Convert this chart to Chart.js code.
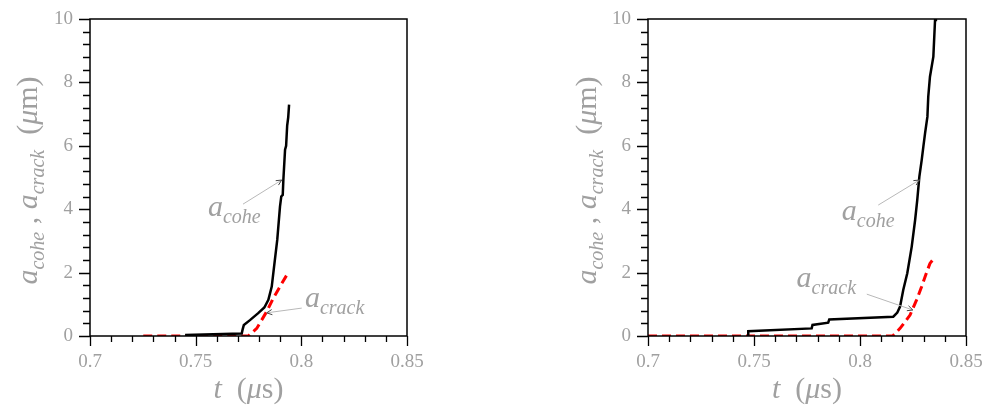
<!DOCTYPE html>
<html>
<head>
<meta charset="utf-8">
<script src="https://cdn.jsdelivr.net/npm/chart.js@4.4.0/dist/chart.umd.min.js"></script>
<style>
  body { margin: 0; background: #fff; }
  .panel { position: absolute; top: 0; width: 500px; height: 408px; }
</style>
</head>
<body>
<div class="panel" style="left:0"><canvas id="left" width="500" height="408"></canvas></div>
<div class="panel" style="left:500px"><canvas id="right" width="500" height="408"></canvas></div>
<script>
// tick labels
var xTicks = [0.7, 0.75, 0.8, 0.85];
var yTicks = [0, 2, 4, 6, 8, 10];

// left panel
var leftCoheT = [0.745, 0.7718, 0.7722, 0.7728, 0.7757, 0.7796, 0.7825, 0.7844, 0.786, 0.7871, 0.7886, 0.7899, 0.7905, 0.7912, 0.7915, 0.7923, 0.7928, 0.7933, 0.7938, 0.7942];
var leftCoheA = [0.03, 0.08, 0.2, 0.35, 0.5, 0.72, 0.9, 1.14, 1.56, 2.19, 3.03, 4.08, 4.4, 4.45, 4.93, 5.88, 6.0, 6.64, 6.9, 7.3];
var leftCrackT = [0.7252, 0.7749, 0.7789, 0.7836, 0.7868, 0.7899, 0.7938];
var leftCrackA = [0, 0, 0.24, 0.77, 1.2, 1.56, 2.0];

// right panel
var rightCoheT = [0.7473, 0.7473, 0.7772, 0.7776, 0.785, 0.7855, 0.8157, 0.8176, 0.8189, 0.8204, 0.8223, 0.8244, 0.826, 0.827, 0.828, 0.8291, 0.8299, 0.8307, 0.8318, 0.8322, 0.833, 0.8346, 0.8354, 0.8358];
var rightCoheA = [0, 0.15, 0.24, 0.35, 0.42, 0.52, 0.61, 0.74, 0.93, 1.45, 1.98, 2.82, 3.66, 4.29, 5.03, 5.55, 5.98, 6.4, 6.92, 7.55, 8.18, 8.81, 9.97, 10.5];
var rightCrackT = [0.7, 0.8154, 0.8189, 0.8236, 0.8267, 0.8291, 0.8307, 0.833, 0.8354];
var rightCrackA = [0, 0, 0.24, 0.66, 1.14, 1.56, 1.87, 2.29, 2.49];

var GRAY = '#a0a0a0';
var SERIF = '"Liberation Serif", "DejaVu Serif", serif';

function pts(t, a) {
  var out = [];
  for (var i = 0; i < t.length; i++) out.push({x: t[i], y: a[i]});
  return out;
}

// draw a run of text pieces (main + subscripts) starting at x
function drawMath(ctx, parts, x, y, center) {
  var w = 0;
  parts.forEach(function(p) {
    ctx.font = (p.it ? 'italic ' : '') + p.s + 'px ' + SERIF;
    p.w = ctx.measureText(p.t).width;
    w += p.w;
  });
  if (center) x -= w / 2;
  parts.forEach(function(p) {
    ctx.font = (p.it ? 'italic ' : '') + p.s + 'px ' + SERIF;
    ctx.fillText(p.t, x, y + (p.sub ? 7 : 0));
    x += p.w;
  });
}

function subLabel(main, sub) {
  return [{t: main, s: 30, it: true}, {t: sub, s: 20, it: true, sub: true}];
}

var deco = {
  id: 'deco',
  afterDraw: function(chart, args, opts) {
    var ctx = chart.ctx;
    var xs = chart.scales.x, ys = chart.scales.y;
    var a = chart.chartArea;
    ctx.save();
    // frame
    ctx.strokeStyle = '#000';
    ctx.lineWidth = 1.5;
    ctx.strokeRect(a.left, a.top, a.right - a.left, a.bottom - a.top);
    // tick marks, outward
    ctx.lineWidth = 1.3;
    ctx.beginPath();
    for (var i = 0; i <= 15; i++) {
      var px = Math.round(xs.getPixelForValue(0.7 + i * 0.01)) + 0.5;
      var len = (i % 5 == 0) ? 10 : 6;
      ctx.moveTo(px, a.bottom);
      ctx.lineTo(px, a.bottom + len);
    }
    for (var j = 0; j <= 25; j++) {
      var py = Math.round(ys.getPixelForValue(j * 0.4)) + 0.5;
      var l2 = (j % 5 == 0) ? 11 : 7;
      ctx.moveTo(a.left, py);
      ctx.lineTo(a.left - l2, py);
    }
    ctx.stroke();

    ctx.fillStyle = GRAY;
    ctx.textBaseline = 'alphabetic';
    // x title
    drawMath(ctx, [{t: 't', s: 30, it: true}, {t: '  (', s: 30}, {t: 'μ', s: 30, it: true}, {t: 's)', s: 30}],
      (a.left + a.right) / 2, 398, true);
    // y title, rotated
    ctx.save();
    ctx.translate(opts.yTitleX, (a.top + a.bottom) / 2 + 3);
    ctx.rotate(-Math.PI / 2);
    var yt = subLabel('a', 'cohe').concat([{t: ' , ', s: 30}]).concat(subLabel('a', 'crack'))
      .concat([{t: '  (', s: 30}, {t: 'μ', s: 30, it: true}, {t: 'm)', s: 30}]);
    drawMath(ctx, yt, 0, 10, true);
    ctx.restore();

    // annotations with arrows
    opts.notes.forEach(function(n) {
      var tx = xs.getPixelForValue(n.tx), ty = ys.getPixelForValue(n.ty);
      ctx.fillStyle = GRAY;
      drawMath(ctx, subLabel('a', n.sub), tx, ty, false);
      var x1 = xs.getPixelForValue(n.from[0]), y1 = ys.getPixelForValue(n.from[1]);
      var x2 = xs.getPixelForValue(n.to[0]), y2 = ys.getPixelForValue(n.to[1]);
      ctx.strokeStyle = '#b8b8b8';
      ctx.lineWidth = 1;
      ctx.beginPath();
      ctx.moveTo(x1, y1);
      ctx.lineTo(x2, y2);
      ctx.stroke();
      var ang = Math.atan2(y2 - y1, x2 - x1);
      ctx.strokeStyle = '#444';
      ctx.beginPath();
      ctx.moveTo(x2 - 6 * Math.cos(ang - 0.45), y2 - 6 * Math.sin(ang - 0.45));
      ctx.lineTo(x2, y2);
      ctx.lineTo(x2 - 6 * Math.cos(ang + 0.45), y2 - 6 * Math.sin(ang + 0.45));
      ctx.stroke();
    });
    ctx.restore();
  }
};

function makeChart(id, coheT, coheA, crackT, crackA, yWidth, padRight, yTitleX, notes) {
  return new Chart(document.getElementById(id), {
    type: 'scatter',
    data: {
      datasets: [
        {
          data: pts(coheT, coheA),
          showLine: true,
          borderColor: '#000',
          borderWidth: 2.5,
          pointRadius: 0,
          tension: 0
        },
        {
          data: pts(crackT, crackA),
          showLine: true,
          borderColor: '#ff0000',
          borderWidth: 3,
          borderDash: [9, 5],
          pointRadius: 0,
          tension: 0
        }
      ]
    },
    options: {
      responsive: false,
      animation: false,
      layout: { padding: { top: 19, right: padRight, left: 0, bottom: 0 } },
      plugins: {
        legend: { display: false },
        tooltip: { enabled: false },
        deco: { notes: notes, yTitleX: yTitleX }
      },
      scales: {
        x: {
          type: 'linear',
          min: 0.7, max: 0.85,
          border: { display: false },
          grid: { display: false, drawTicks: false },
          afterBuildTicks: function(s) { s.ticks = xTicks.map(function(v) { return {value: v}; }); },
          afterFit: function(s) { s.height = 72; s.paddingLeft = 0; s.paddingRight = 0; },
          ticks: {
            color: GRAY,
            padding: 15,
            font: { family: SERIF, size: 19 },
            maxRotation: 0,
            callback: function(v) { return String(parseFloat(v.toFixed(2))); }
          }
        },
        y: {
          type: 'linear',
          min: 0, max: 10,
          border: { display: false },
          grid: { display: false, drawTicks: false },
          afterBuildTicks: function(s) { s.ticks = yTicks.map(function(v) { return {value: v}; }); },
          afterFit: function(s) { s.width = yWidth; s.paddingTop = 0; s.paddingBottom = 0; },
          ticks: {
            color: GRAY,
            padding: 17,
            font: { family: SERIF, size: 19 }
          }
        }
      }
    },
    plugins: [deco]
  });
}

makeChart('left', leftCoheT, leftCoheA, leftCrackT, leftCrackA, 90, 93, 27, [
  { sub: 'cohe', tx: 0.7558, ty: 3.79, from: [0.7724, 4.16], to: [0.7907, 4.92] },
  { sub: 'crack', tx: 0.8017, ty: 0.92, from: [0.8002, 0.88], to: [0.7836, 0.73] }
]);

makeChart('right', rightCoheT, rightCoheA, rightCrackT, rightCrackA, 148, 34, 86, [
  { sub: 'cohe', tx: 0.7914, ty: 3.66, from: [0.8086, 4.13], to: [0.828, 4.92] },
  { sub: 'crack', tx: 0.7701, ty: 1.56, from: [0.8032, 1.32], to: [0.8249, 0.82] }
]);
</script>
</body>
</html>
